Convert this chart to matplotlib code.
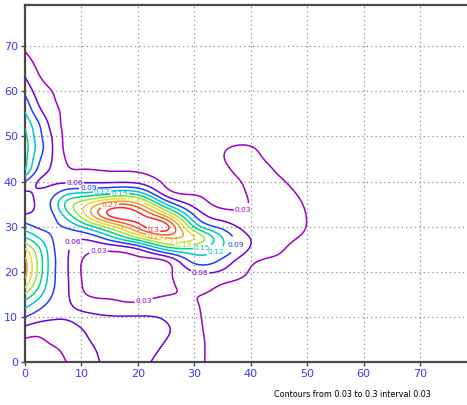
import numpy as np
import matplotlib
matplotlib.use("Agg")
import matplotlib.pyplot as plt

# ---------------- data ----------------
x_knots = [0, 2.5, 5, 7.5, 10, 15, 20, 25, 30, 35, 40, 45, 50, 55, 60, 70, 80]
y_knots = [0, 2.5, 5, 7.5, 10, 12.5, 15, 17.5, 20, 22.5, 25, 27.5, 30, 32.5, 35,
           37.5, 40, 42.5, 45, 47.5, 50, 52.5, 55, 57.5, 60, 62.5, 65, 67.5, 70, 75, 80]

# one row per y knot, one column per x knot
field = [
    [.015, .018, .020, .031, .048, .063, .066, .050, .036, .020, .012, .008, .005, .003, .002, 0, 0],
    [.020, .022, .025, .037, .050, .066, .069, .055, .037, .020, .012, .008, .005, .003, .002, 0, 0],
    [.028, .027, .037, .045, .055, .068, .070, .060, .037, .021, .013, .009, .006, .004, .002, 0, 0],
    [.052, .045, .050, .053, .060, .067, .068, .063, .036, .022, .014, .010, .007, .004, .002, 0, 0],
    [.090, .072, .063, .062, .064, .062, .062, .056, .034, .023, .016, .011, .008, .005, .003, 0, 0],
    [.128, .100, .076, .064, .053, .040, .036, .043, .032, .024, .018, .013, .009, .006, .003, 0, 0],
    [.175, .130, .088, .063, .036, .026, .024, .029, .031, .026, .021, .016, .011, .007, .004, .001, 0],
    [.228, .155, .095, .063, .031, .022, .020, .025, .040, .031, .024, .019, .013, .008, .004, .001, 0],
    [.250, .168, .097, .062, .029, .021, .021, .023, .060, .055, .028, .022, .016, .010, .005, .001, 0],
    [.247, .168, .098, .062, .031, .023, .025, .032, .100, .083, .036, .027, .019, .012, .006, .001, 0],
    [.213, .155, .094, .063, .042, .036, .058, .125, .145, .115, .056, .032, .023, .014, .007, .001, 0],
    [.155, .120, .088, .070, .064, .105, .175, .240, .210, .120, .059, .036, .027, .016, .008, .001, 0],
    [.105, .085, .084, .095, .120, .195, .280, .310, .148, .080, .045, .038, .0295, .017, .009, .001, 0],
    [.063, .068, .088, .135, .190, .302, .310, .230, .090, .045, .034, .038, .0295, .017, .009, .001, 0],
    [.050, .066, .100, .160, .195, .262, .245, .120, .050, .024, .031, .037, .028, .016, .008, .001, 0],
    [.057, .064, .080, .110, .120, .137, .130, .044, .027, .022, .032, .035, .025, .014, .007, .001, 0],
    [.090, .058, .055, .055, .055, .055, .052, .025, .018, .023, .033, .032, .021, .012, .006, .001, 0],
    [.148, .080, .054, .034, .031, .029, .028, .019, .015, .026, .035, .028, .017, .010, .005, .001, 0],
    [.160, .095, .057, .027, .022, .021, .020, .015, .013, .029, .034, .023, .013, .008, .004, .001, 0],
    [.163, .105, .058, .022, .018, .017, .016, .013, .012, .027, .031, .017, .010, .006, .003, 0, 0],
    [.158, .100, .055, .021, .016, .015, .014, .012, .011, .018, .021, .013, .008, .005, .003, 0, 0],
    [.145, .092, .047, .021, .014, .013, .012, .010, .010, .013, .015, .010, .006, .004, .002, 0, 0],
    [.123, .072, .040, .022, .013, .011, .010, .009, .008, .010, .011, .008, .005, .003, .002, 0, 0],
    [.103, .056, .033, .021, .011, .010, .009, .008, .007, .008, .008, .006, .004, .003, .001, 0, 0],
    [.083, .045, .029, .018, .010, .008, .007, .007, .006, .006, .006, .005, .003, .002, .001, 0, 0],
    [.064, .034, .022, .014, .008, .007, .006, .006, .005, .005, .005, .004, .003, .002, .001, 0, 0],
    [.050, .026, .017, .011, .007, .005, .005, .005, .004, .004, .004, .003, .002, .001, .001, 0, 0],
    [.036, .020, .013, .008, .005, .004, .004, .004, .003, .003, .003, .002, .002, .001, 0, 0, 0],
    [.025, .015, .010, .006, .004, .003, .003, .003, .003, .002, .002, .002, .001, .001, 0, 0, 0],
    [.010, .007, .005, .003, .002, .002, .002, .002, .002, .001, .001, .001, .001, 0, 0, 0, 0],
    [.003, .002, .001, .001, .001, .001, .001, .001, .001, 0, 0, 0, 0, 0, 0, 0, 0],
]

levels = [0.03, 0.06, 0.09, 0.12, 0.15, 0.18, 0.21, 0.24, 0.27, 0.30]
x_ticks = [0, 10, 20, 30, 40, 50, 60, 70]
y_ticks = [0, 10, 20, 30, 40, 50, 60, 70]
caption = "Contours from 0.03 to 0.3 interval 0.03"

# ---------------- styling ----------------
level_colors = ["#a000c8", "#6e00dc", "#1e3cff", "#00c8c8", "#00d28c",
                "#a0e632", "#e6dc32", "#f0a028", "#f05a28", "#fa2828"]
label_spots = {
    0.03: [(13.0, 24.4), (21.0, 13.7), (39.0, 32.0)],
    0.06: [(8.8, 40.6), (8.6, 26.6), (31.0, 19.4)],
    0.09: [(11.2, 39.6), (37.6, 26.0)],
    0.12: [(13.6, 38.6), (33.8, 24.4)],
    0.15: [(16.8, 37.6), (31.6, 24.0)],
    0.18: [(28.2, 25.9)],
    0.21: [(19.6, 36.2), (25.8, 27.0)],
    0.24: [(23.2, 28.4)],
    0.27: [(15.0, 34.8)],
    0.30: [(23.0, 30.4)],
}


def spline_matrix(t, s):
    """Natural cubic spline weights: values at s = W @ values at knots t."""
    t = np.asarray(t, float)
    s = np.asarray(s, float)
    n = len(t)
    h = np.diff(t)
    A = np.zeros((n, n))
    B = np.zeros((n, n))
    A[0, 0] = A[-1, -1] = 1.0
    for i in range(1, n - 1):
        A[i, i - 1] = h[i - 1]
        A[i, i] = 2 * (h[i - 1] + h[i])
        A[i, i + 1] = h[i]
        B[i, i - 1] = 6 / h[i - 1]
        B[i, i] = -6 / h[i - 1] - 6 / h[i]
        B[i, i + 1] = 6 / h[i]
    M = np.linalg.solve(A, B)
    k = np.clip(np.searchsorted(t, s, side="right") - 1, 0, n - 2)
    W = np.zeros((len(s), n))
    for r, (sv, i) in enumerate(zip(s, k)):
        hi = h[i]
        a = (t[i + 1] - sv) / hi
        b = (sv - t[i]) / hi
        W[r, i] += a
        W[r, i + 1] += b
        W[r] += ((a ** 3 - a) * M[i] + (b ** 3 - b) * M[i + 1]) * hi ** 2 / 6
    return W


Z = np.array(field, float)
xs = np.linspace(0, 80, 401)
ys = np.linspace(0, 80, 401)
Zf = spline_matrix(y_knots, ys) @ Z @ spline_matrix(x_knots, xs).T

fig = plt.figure(figsize=(4.67, 4.05), dpi=100)
ax = fig.add_axes([25 / 467, 42.7 / 405, 445.8 / 467, 357 / 405])
ax.set_xlim(0, 79)
ax.set_ylim(0, 79)

for lev, col in zip(levels, level_colors):
    cs = ax.contour(xs, ys, Zf, levels=[lev], colors=[col], linewidths=1.1, zorder=3)
    spots = label_spots.get(lev)
    if spots:
        texts = ax.clabel(cs, manual=spots, inline=True, inline_spacing=1,
                          fontsize=5.4, fmt="%g", colors=[col])
        for t in texts:
            t.set_rotation(0)

ax.set_xticks(x_ticks)
ax.set_yticks(y_ticks)
ax.grid(True, linestyle=(0, (1, 2.5)), color="#8c8c8c", linewidth=0.9, zorder=1)
for side in ("left", "bottom", "top", "right"):
    ax.spines[side].set_color("#4a4a4a")
    ax.spines[side].set_linewidth(1.6)
ax.tick_params(direction="out", length=3, width=1, color="#4a4a4a",
               labelcolor="#3a3aff", labelsize=8, pad=2)

fig.text(0.755, 0.0247, caption, ha="center", va="center", fontsize=5.8,
         color="black", family=["Liberation Sans Narrow", "DejaVu Sans"])

fig.savefig("out.png", dpi=100)
